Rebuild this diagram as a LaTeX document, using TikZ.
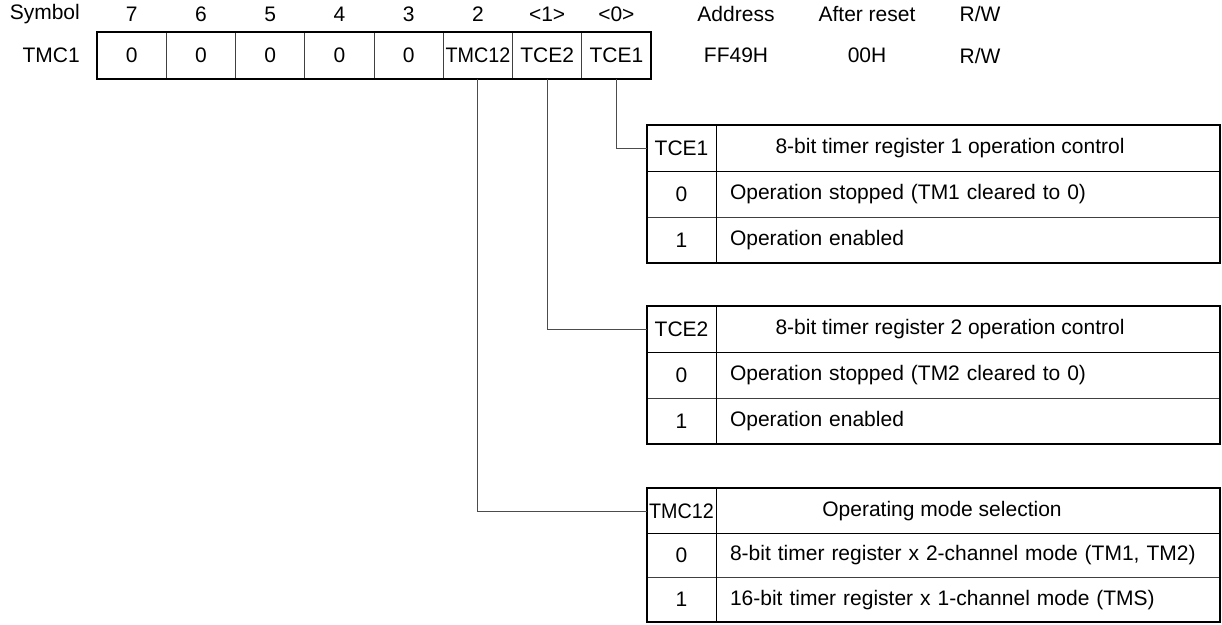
\documentclass[tikz,border=0pt]{standalone}
\usepackage{fontspec}
\setmainfont{Liberation Sans}
\usetikzlibrary{positioning}
\newcommand{\regfont}{\fontsize{21}{24}\selectfont}
\newcommand{\narrow}[1]{\scalebox{0.94}[1]{#1}}

\begin{document}
\begin{tikzpicture}[x=1pt, y=-1pt, font=\regfont,
  regcell/.style={draw=black!75, line width=0.8pt, minimum width=69.25pt,
    minimum height=47pt, inner sep=0pt},
  keycell/.style={draw=black!75, line width=0.8pt, minimum width=69pt,
    minimum height=46pt, inner sep=0pt},
  desccell/.style={draw=black!75, line width=0.8pt, minimum width=504pt,
    minimum height=46pt, inner sep=0pt, text width=476pt, align=left},
  hdr/.style={inner sep=0pt},
  link/.style={draw=black!70, line width=0.9pt},
  frame/.style={draw=black, line width=2pt},
  split/.style={draw=black, line width=1.4pt},
]

\useasboundingbox (0,0) rectangle (1222,624);

% register row
\node[hdr, anchor=east] (symlbl) at (80,14) {Symbol};
\node[hdr, anchor=east] (reglbl) at (80,55.5) {TMC1};

\foreach \b [count=\k from 0] in {7,6,5,4,3} {
  \node[regcell] (b\b) at (131.625+69.25*\k,55.5) {0};
  \node[hdr] (n\b) at (131.625+69.25*\k,14) {\b};
}
\node[regcell] (b2) at (477.875,55.5) {\narrow{TMC12}};
\node[regcell] (b1) at (547.125,55.5) {TCE2};
\node[regcell] (b0) at (616.375,55.5) {TCE1};
\node[hdr] (n2) at (477.875,14) {2};
\node[hdr] (n1) at (547.125,14) {<1>};
\node[hdr] (n0) at (616.375,14) {<0>};
\draw[frame] (b7.north west) rectangle (b0.south east);

\node[hdr] (addrlbl) at (736,14) {Address};
\node[hdr] (addr) at (736,55.5) {FF49H};
\node[hdr] (rstlbl) at (867,14) {After reset};
\node[hdr] (rst) at (867,55.5) {00H};
\node[hdr] (rwlbl) at (980,14) {R/W};
\node[hdr] (rw) at (980,55.5) {R/W};

% TCE1 table
\node[keycell] (t1key) at (681.5,148) {TCE1};
\node[desccell] (t1head) at (968,148) {};
\node[hdr] (t1txt) at (950,148) {8-bit timer register 1 operation control};
\node[keycell] (t1k0) at (681.5,194) {0};
\node[desccell] (t1d0) at (968,194) {Operation stopped (TM1 cleared to 0)};
\node[keycell] (t1k1) at (681.5,240) {1};
\node[desccell] (t1d1) at (968,240) {Operation enabled};
\draw[split] (t1key.south west) -- (t1head.south east);
\draw[split] (t1key.north east) -- (t1k1.south east);
\draw[frame] (t1key.north west) rectangle (t1d1.south east);

% TCE2 table
\node[keycell] (t2key) at (681.5,329) {TCE2};
\node[desccell] (t2head) at (968,329) {};
\node[hdr] (t2txt) at (950,329) {8-bit timer register 2 operation control};
\node[keycell] (t2k0) at (681.5,375) {0};
\node[desccell] (t2d0) at (968,375) {Operation stopped (TM2 cleared to 0)};
\node[keycell] (t2k1) at (681.5,421) {1};
\node[desccell] (t2d1) at (968,421) {Operation enabled};
\draw[split] (t2key.south west) -- (t2head.south east);
\draw[split] (t2key.north east) -- (t2k1.south east);
\draw[frame] (t2key.north west) rectangle (t2d1.south east);

% TMC12 table
\node[keycell, minimum height=44.3pt] (t3key) at (681.5,511) {\narrow{TMC12}};
\node[desccell, minimum height=44.3pt] (t3head) at (968,511) {};
\node[hdr] (t3txt) at (942,511) {Operating mode selection};
\node[keycell, minimum height=44.3pt] (t3k0) at (681.5,555.3) {0};
\node[desccell, minimum height=44.3pt] (t3d0) at (968,555.3) {8-bit timer register x 2-channel mode (TM1, TM2)};
\node[keycell, minimum height=44.3pt] (t3k1) at (681.5,599.6) {1};
\node[desccell, minimum height=44.3pt] (t3d1) at (968,599.6) {16-bit timer register x 1-channel mode (TMS)};
\draw[split] (t3key.south west) -- (t3head.south east);
\draw[split] (t3key.north east) -- (t3k1.south east);
\draw[frame] (t3key.north west) rectangle (t3d1.south east);

% connectors
\draw[link] (b0.south) |- (t1key.west);
\draw[link] (b1.south) |- (t2key.west);
\draw[link] (b2.south) |- (t3key.west);

\end{tikzpicture}
\end{document}
